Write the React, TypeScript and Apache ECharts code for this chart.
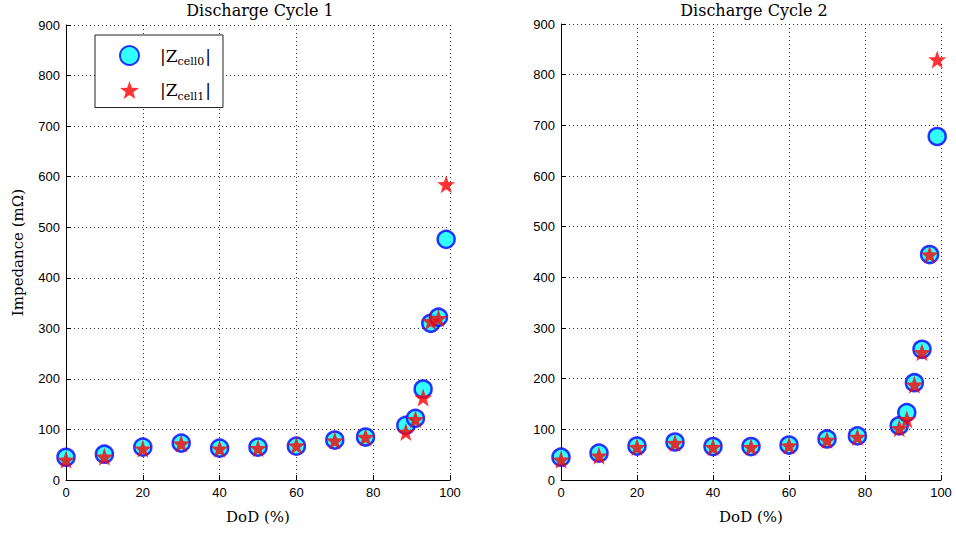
import React, { useEffect, useRef } from "react";
import * as echarts from "echarts";

// ---- data ----
const titles = ["Discharge Cycle 1", "Discharge Cycle 2"];
const dodCycle1 = [0, 10, 20, 30, 40, 50, 60, 70, 78, 88.5, 91, 93, 95, 97, 99];
const cell0Cycle1 = [45, 51, 65, 73, 63, 65, 67, 79, 85, 108, 122, 180, 310, 322, 476];
const cell1Cycle1 = [40, 46, 62, 72, 62, 63, 68, 78, 85, 95, 120, 163, 314, 320, 585];

const dodCycle2 = [0, 10, 20, 30, 40, 50, 60, 70, 78, 89, 91, 93, 95, 97, 99];
const cell0Cycle2 = [45, 53, 67, 75, 66, 66, 69, 81, 87, 107, 133, 192, 258, 445, 678];
const cell1Cycle2 = [40, 48, 65, 73, 65, 65, 68, 79, 85, 102, 120, 188, 252, 445, 830];

const seriesNames = ["|Zcell0|", "|Zcell1|"];
const xTicks = { min: 0, max: 100, interval: 20 };
const yTicks = { min: 0, max: 900, interval: 100 };

function starPath(): string {
  const pts: string[] = [];
  for (let i = 0; i < 10; i++) {
    const r = i % 2 === 0 ? 50 : 20;
    const a = -Math.PI / 2 + (i * Math.PI) / 5;
    pts.push(`${(50 + r * Math.cos(a)).toFixed(2)} ${(52 + r * Math.sin(a)).toFixed(2)}`);
  }
  return "path://M" + pts.join(" L") + " Z";
}

const zip = (xs: number[], ys: number[]) => xs.map((x, i) => [x, ys[i]]);

export default function App() {
  const ref = useRef<HTMLDivElement>(null);
  useEffect(() => {
    if (!ref.current) return;
    const chart = echarts.init(ref.current, null, { renderer: "svg" });
    const star = starPath();
    const serif = "'DejaVu Serif', serif";
    const sans = "'Liberation Sans', Arial, sans-serif";
    const grids = [
      { left: 66, top: 25, width: 384, height: 455 },
      { left: 561, top: 24, width: 380, height: 456 },
    ];
    const titleCenters = [255, 749];
    const axisCommon = {
      axisLine: { show: true, onZero: false, lineStyle: { color: "#000", width: 1 } },
      axisTick: { show: true, inside: true, length: 5, lineStyle: { color: "#000" } },
      axisLabel: { color: "#000", fontFamily: sans, fontSize: 13 },
      splitLine: { show: true, lineStyle: { color: "#333", type: [1, 3], width: 1 } },
    };
    const xAxis = grids.map((_, i) => ({
      type: "value",
      gridIndex: i,
      ...xTicks,
      ...axisCommon,
      axisLabel: { ...axisCommon.axisLabel, margin: 6 },
      name: "DoD (%)",
      nameLocation: "middle",
      nameGap: 29,
      nameTextStyle: { color: "#000", fontFamily: serif, fontSize: 15 },
    }));
    const yAxis = grids.map((_, i) => ({
      type: "value",
      gridIndex: i,
      ...yTicks,
      ...axisCommon,
      axisLabel: { ...axisCommon.axisLabel, margin: 6 },
      name: i === 0 ? "Impedance (mΩ)" : "",
      nameLocation: "middle",
      nameGap: 41,
      nameTextStyle: { color: "#000", fontFamily: serif, fontSize: 15 },
    }));
    const circleStyle = { color: "#00ffff", borderColor: "#0000ff", borderWidth: 2.5 };
    const starStyle = { color: "#ff0000" };
    const cycles = [
      [dodCycle1, cell0Cycle1, cell1Cycle1],
      [dodCycle2, cell0Cycle2, cell1Cycle2],
    ];
    const series: any[] = [];
    cycles.forEach(([dod, c0, c1], i) => {
      series.push({
        name: seriesNames[0],
        type: "scatter",
        xAxisIndex: i,
        yAxisIndex: i,
        symbol: "circle",
        symbolSize: 17,
        itemStyle: circleStyle,
        data: zip(dod, c0),
        z: 2,
      });
      series.push({
        name: seriesNames[1],
        type: "scatter",
        xAxisIndex: i,
        yAxisIndex: i,
        symbol: star,
        symbolSize: 18,
        itemStyle: starStyle,
        data: zip(dod, c1),
        z: 3,
      });
    });
    chart.setOption({
      animation: false,
      backgroundColor: "#fff",
      title: titles.map((t, i) => ({
        text: t,
        left: titleCenters[i],
        textAlign: "center",
        top: -3,
        textStyle: { color: "#000", fontFamily: serif, fontSize: 16, fontWeight: "normal" },
      })),
      grid: grids,
      xAxis,
      yAxis,
      legend: {
        data: seriesNames,
        orient: "vertical",
        left: 95,
        top: 35,
        backgroundColor: "#fff",
        borderColor: "#222",
        borderWidth: 1,
        borderRadius: 0,
        padding: [10, 12, 6, 24],
        itemGap: 14,
        itemWidth: 19,
        itemHeight: 19,
        formatter: (n: string) =>
          n === seriesNames[0] ? "|{z|Z}{s|cell0}|" : "|{z|Z}{s|cell1}|",
        textStyle: {
          color: "#000",
          fontFamily: serif,
          fontSize: 17,
          padding: [0, 0, 0, 16],
          rich: {
            z: { fontFamily: serif, fontSize: 17, color: "#000" },
            s: { fontFamily: serif, fontSize: 11, color: "#000", padding: [12, 1, 0, 0] },
          },
        },
      },
      series,
    });
    return () => chart.dispose();
  }, []);
  return <div ref={ref} style={{ width: 956, height: 536, position: "absolute", left: 0, top: 0 }} />;
}
